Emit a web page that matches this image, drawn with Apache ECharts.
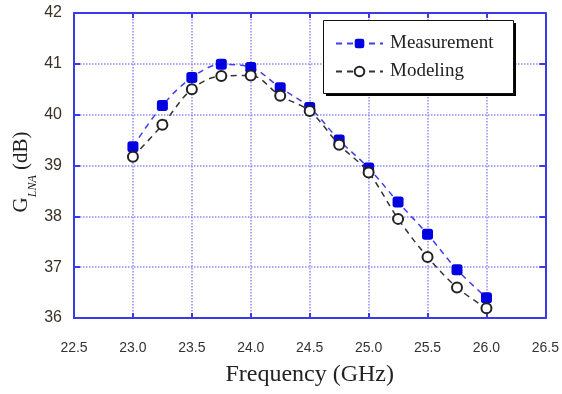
<!DOCTYPE html>
<html><head><meta charset="utf-8">
<script src="https://cdn.jsdelivr.net/npm/echarts@6/dist/echarts.min.js"></script>
<style>html,body{margin:0;padding:0;background:#fff}#c{width:562px;height:394px}</style>
</head><body><div id="c"></div>
<script>
const freq = [23.0, 23.25, 23.5, 23.75, 24.0, 24.25, 24.5, 24.75, 25.0, 25.25, 25.5, 25.75, 26.0];
const measurement = [39.37, 40.18, 40.73, 40.99, 40.93, 40.53, 40.14, 39.5, 38.95, 38.28, 37.65, 36.95, 36.4];
const modeling = [39.17, 39.8, 40.5, 40.76, 40.77, 40.37, 40.07, 39.41, 38.86, 37.95, 37.2, 36.6, 36.19];
const xTicks = {min: 22.5, max: 26.5, step: 0.5};
const yTicks = {min: 36, max: 42, step: 1};

const axisBlue = '#3a3ae8';
const gridBlue = '#8c8cf5';
const chart = echarts.init(document.getElementById('c'));
const pair = (xs, ys) => xs.map((x, i) => [x, ys[i]]);
chart.setOption({
  animation: false,
  grid: {left: 74, right: 14, top: 13, bottom: 76},
  legend: {
    orient: 'vertical', left: 323, top: 20, z: 20,
    padding: [14, 21, 14, 12], itemGap: 9, itemWidth: 47, itemHeight: 12,
    textStyle: {fontFamily: 'Liberation Serif', fontSize: 19, color: '#222', padding: [0,0,0,2]},
    data: ['Measurement', 'Modeling']
  },
  graphic: [{
    type: 'rect', left: 326, top: 23, z: 9,
    shape: {width: 190, height: 73},
    style: {fill: '#000'}
  }, {
    type: 'rect', left: 323, top: 20, z: 10,
    shape: {width: 190, height: 73},
    style: {fill: '#fff', stroke: '#111', lineWidth: 1}
  }, {
    type: 'text', x: 20, y: 172, rotation: Math.PI / 2,
    style: {
      text: '{g|G}{s|LNA}{g| (dB)}', align: 'center', verticalAlign: 'middle',
      rich: {
        g: {fontFamily: 'Liberation Serif', fontSize: 21, fill: '#222', verticalAlign: 'bottom', lineHeight: 24},
        s: {fontFamily: 'Liberation Serif', fontSize: 12, fontStyle: 'italic', fill: '#222', verticalAlign: 'bottom', lineHeight: 24, padding: [0,0,-7,0]}
      }
    }
  }],
  xAxis: [{
    type: 'value', min: xTicks.min, max: xTicks.max, interval: xTicks.step,
    name: 'Frequency (GHz)', nameLocation: 'middle', nameGap: 45,
    nameTextStyle: {fontFamily: 'Liberation Serif', fontSize: 24, color: '#222'},
    axisLine: {lineStyle: {color: axisBlue, width: 2}},
    axisTick: {inside: true, length: 5, lineStyle: {color: axisBlue, width: 2}},
    axisLabel: {margin: 23, fontFamily: 'Liberation Sans', fontSize: 14, color: '#333', formatter: v => v.toFixed(1)},
    splitLine: {show: true, lineStyle: {color: gridBlue, type: 'dotted', width: 1.5}}
  }, {
    type: 'value', position: 'top', min: xTicks.min, max: xTicks.max, interval: xTicks.step,
    axisLine: {show: true, lineStyle: {color: axisBlue, width: 2}},
    axisTick: {show: true, inside: true, length: 5, lineStyle: {color: axisBlue, width: 2}},
    axisLabel: {show: false}, splitLine: {show: false}
  }],
  yAxis: [{
    type: 'value', min: yTicks.min, max: yTicks.max, interval: yTicks.step,
    axisLine: {show: true, lineStyle: {color: axisBlue, width: 2}},
    axisTick: {show: true, inside: true, length: 6, lineStyle: {color: axisBlue, width: 2}},
    axisLabel: {margin: 12, fontFamily: 'Liberation Sans', fontSize: 16, color: '#3a3025'},
    splitLine: {show: true, lineStyle: {color: gridBlue, type: 'dotted', width: 1.5}}
  }, {
    type: 'value', position: 'right', min: yTicks.min, max: yTicks.max, interval: yTicks.step,
    axisLine: {show: true, lineStyle: {color: axisBlue, width: 2}},
    axisTick: {show: true, inside: true, length: 6, lineStyle: {color: axisBlue, width: 2}},
    axisLabel: {show: false}, splitLine: {show: false}
  }],
  series: [{
    name: 'Measurement', type: 'line', smooth: 0.35,
    data: pair(freq, measurement),
    symbol: 'roundRect', symbolSize: 11,
    itemStyle: {color: '#0000e0', borderColor: '#0000e0', borderWidth: 0},
    lineStyle: {color: '#3f3ff0', width: 1.5, type: [6, 5]},
    z: 3
  }, {
    name: 'Modeling', type: 'line', smooth: 0.35,
    data: pair(freq, modeling),
    symbol: 'circle', symbolSize: 10,
    itemStyle: {color: '#fff', borderColor: '#222', borderWidth: 2},
    lineStyle: {color: '#333', width: 1.5, type: [6, 5]},
    z: 4
  }]
});
</script></body></html>
